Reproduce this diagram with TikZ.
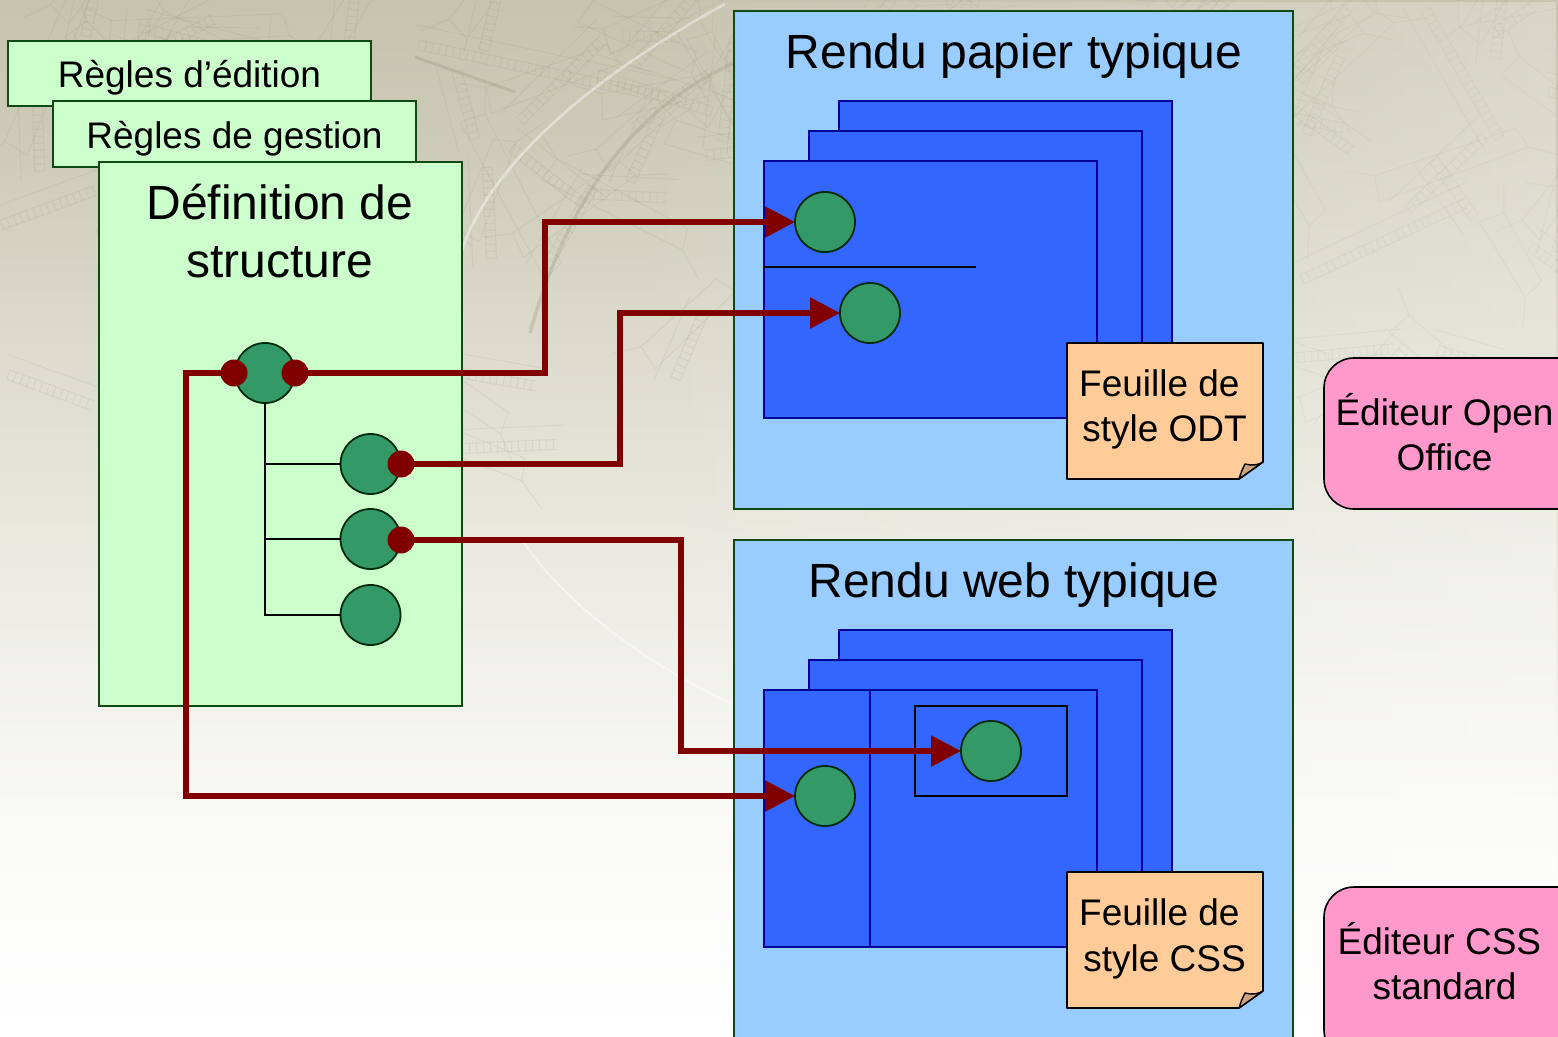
\documentclass[tikz,border=0pt]{standalone}
\usepackage{fontspec}
\setmainfont{Liberation Sans}
\usetikzlibrary{arrows.meta,calc,fadings}
\definecolor{bgc}{HTML}{C6C4AE}
% TikZ maps the picture onto 25bp..75bp of the shading
\pgfdeclareverticalshading{bgshade}{100bp}{
  color(0bp)=(white);
  color(25bp)=(white);
  color(33bp)=(bgc!6!white);
  color(40bp)=(bgc!19!white);
  color(49bp)=(bgc!38!white);
  color(60bp)=(bgc!66!white);
  color(68bp)=(bgc!88!white);
  color(75bp)=(bgc);
  color(100bp)=(bgc)}
\definecolor{mapline}{HTML}{8F8C74}
\definecolor{greenfill}{HTML}{CCFFCC}
\definecolor{greenedge}{HTML}{0F4A12}
\definecolor{bluefill}{HTML}{99CCFF}
\definecolor{pagefill}{HTML}{3366FF}
\definecolor{pageedge}{HTML}{000099}
\definecolor{notefill}{HTML}{FFCC99}
\definecolor{foldfill}{HTML}{CCA37A}
\definecolor{pinkfill}{HTML}{FF99CC}
\definecolor{dotgreen}{HTML}{339966}
\definecolor{balledge}{HTML}{002B0A}
\definecolor{linkred}{HTML}{800000}
\tikzset{
  greenbox/.style={draw=greenedge,fill=greenfill,line width=1.6pt},
  panelbox/.style={draw=greenedge,fill=bluefill,line width=1.6pt},
  pagebox/.style={draw=pageedge,fill=pagefill,line width=1.6pt},
  pinkbox/.style={draw=black,fill=pinkfill,line width=1.6pt,rounded corners=30pt},
  notebox/.style={draw=black,fill=notefill,line width=1.6pt,line join=round},
  foldbox/.style={draw=black,fill=foldfill,line width=1.4pt,line join=round},
  ball/.style={circle,draw=balledge,fill=dotgreen,line width=1.8pt,minimum size=60pt,inner sep=0pt,outer sep=0pt},
  reddot/.style={circle,fill=linkred,minimum size=27pt,inner sep=0pt,outer sep=0pt},
  treeline/.style={draw=black,line width=1.6pt},
  rule/.style={draw=black,line width=1.6pt},
  pagerule/.style={draw=pageedge,line width=1.6pt},
  link/.style={draw=linkred,line width=5.5pt},
  linkarrow/.style={link,-{Triangle[length=30pt,width=30pt]}},
  bigtext/.style={font=\fontsize{48}{58}\selectfont,align=center,inner sep=0pt},
  midtext/.style={font=\fontsize{37}{45.5}\selectfont,align=center,inner sep=0pt},
  maplight/.style={draw=mapline,line width=1pt,opacity=.13},
}
% a map-like street: two long lines with short rungs
\newcommand\mapstreet[4]{%
  \begin{scope}[shift={(#1,#2)},rotate=#3]
    \draw[maplight] (0,0) -- (#4,0) (0,10) -- (#4,10) (-8,-14) -- (#4+10,-14);
    \foreach \s in {0,7,...,#4}{\draw[maplight] (\s,0) -- (\s,10);}
  \end{scope}}
\newcommand\mapblock[5]{%
  \begin{scope}[shift={(#1,#2)},rotate=#3]
    \draw[maplight] (0,0) -- (#4,0) -- (#4+6,#5) -- (-4,#5+4) -- cycle;
    \draw[maplight] (#4+6,#5) -- (#4+34,#5+18) (0,0) -- (-26,-14);
  \end{scope}}
\begin{document}
\begin{tikzpicture}[x=1pt,y=-1pt]
\useasboundingbox (0,0) rectangle (1558,1036);
\clip (0,0) rectangle (1558,1036);
% background
\path[shading=bgshade] (0,0) rectangle (1558,1036);
\pgfmathsetseed{4711}
\foreach \i in {1,...,70}{
  \pgfmathsetmacro{\xa}{rnd*1558}
  \pgfmathsetmacro{\ya}{rnd*rnd*480}
  \pgfmathsetmacro{\wa}{60+rnd*120}
  \pgfmathsetmacro{\ha}{-70+rnd*140}
  \pgfmathtruncatemacro{\la}{50+rnd*70}
  \mapblock{\xa}{\ya}{\ha}{\wa}{22}
  \mapstreet{\xa+30}{\ya+30}{\ha+25}{\la}
}
\mapstreet{1345}{0}{97}{260}
\mapstreet{1390}{0}{100}{120}
\mapstreet{1495}{140}{120}{150}
\mapstreet{1470}{220}{125}{70}
\mapstreet{1300}{275}{25}{180}
\mapstreet{150}{25}{-15}{140}
\mapstreet{420}{40}{-12}{250}
\mapstreet{600}{70}{-18}{120}
\mapstreet{470}{140}{105}{70}
\mapstreet{0}{220}{20}{100}
\mapstreet{10}{370}{-20}{90}
\draw[mapline,opacity=.28,line width=3pt] (415,57) -- (515,92);
\draw[white,opacity=.42,line width=2.6pt] (725,4) .. controls (590,78) and (490,165) .. (462,250);
\draw[mapline,opacity=.26,line width=3.5pt] (734,63) .. controls (640,105) and (570,190) .. (530,333);
\draw[white,opacity=.45,line width=2pt] (522,540) .. controls (570,610) and (650,665) .. (734,705);
% lighter right side
\fill[white,opacity=.3,path fading=west] (600,0) rectangle (1558,1036);
% left stack
\path[greenbox] (8,41) rectangle (371,106);
\node[midtext] (r1) at (189.5,78) {Règles d’édition};
\path[greenbox] (53,101) rectangle (416,167);
\node[midtext] (r2) at (234.5,139) {Règles de gestion};
\path[greenbox] (99,162) rectangle (462,706);
\node[bigtext] (def) at (280,231) {Définition de\\structure};
% top panel
\path[panelbox] (734,11) rectangle (1293,509);
\node[bigtext] (t1) at (1014,56) {Rendu papier typique};
\path[pagebox] (839,101) rectangle (1172,360);
\path[pagebox] (809,131) rectangle (1142,390);
\path[pagebox] (764,161) rectangle (1097,418);
\path[rule] (764,267) -- (976,267);
\path[notebox] (1067,343) -- (1263,343) -- (1263,462) -- (1239,479) -- (1067,479) -- cycle;
\path[foldbox] (1239,479) .. controls (1241,472) and (1243,468) .. (1245,464) .. controls (1252,466) and (1258,465) .. (1263,462) -- cycle;
\node[midtext] (n1) at (1164.5,409.5) {Feuille de\hspace*{.278em}\\style ODT};
% bottom panel
\path[panelbox] (734,540) rectangle (1293,1060);
\node[bigtext] (t2) at (1014,585) {Rendu web typique};
\path[pagebox] (839,630) rectangle (1172,889);
\path[pagebox] (809,660) rectangle (1142,919);
\path[pagebox] (764,690) rectangle (1097,947);
\path[pagerule] (870,690) -- (870,947);
\path[rule] (915,706) rectangle (1067,796);
\path[notebox] (1067,872) -- (1263,872) -- (1263,991) -- (1239,1008) -- (1067,1008) -- cycle;
\path[foldbox] (1239,1008) .. controls (1241,1001) and (1243,997) .. (1245,993) .. controls (1252,995) and (1258,994) .. (1263,991) -- cycle;
\node[midtext] (n2) at (1164.5,939) {Feuille de\hspace*{.278em}\\style CSS};
% pink
\path[pinkbox] (1324,358) rectangle (1590,509);
\node[midtext] (e1) at (1444.5,432) {Éditeur Open\\Office};
\path[pinkbox] (1324,887) rectangle (1590,1060);
\node[midtext] (e2) at (1444.5,961) {Éditeur CSS\hspace*{.278em}\\standard};
% balls
\node[ball] (a0) at (265,373) {};
\node[ball] (a1) at (370.5,464) {};
\node[ball] (a2) at (370.5,539) {};
\node[ball] (a3) at (370.5,615) {};
\path[treeline] (a0.south) -- (a3.west -| a0.south) -- (a3.west);
\path[treeline] (a1.west -| a0.south) -- (a1.west);
\path[treeline] (a2.west -| a0.south) -- (a2.west);
\node[ball] (b1) at (825,222) {};
\node[ball] (b2) at (870,313) {};
\node[ball] (b3) at (991,751) {};
\node[ball] (b4) at (825,796) {};
% source dots
\node[reddot] (dl) at (234,373) {};
\node[reddot] (dr) at (295,373) {};
\node[reddot] (d1) at (401,464) {};
\node[reddot] (d2) at (401,540) {};
% links
\coordinate (k1) at (545,373);
\coordinate (k2) at (620,464);
\coordinate (k3) at (681,540);
\coordinate (k4) at (186,373);
\draw[linkarrow] (dr.center) -- (k1) -- (k1 |- b1.west) -- (b1.west);
\draw[linkarrow] (d1.center) -- (k2) -- (k2 |- b2.west) -- (b2.west);
\draw[linkarrow] (d2.center) -- (k3) -- (k3 |- b3.west) -- (b3.west);
\draw[linkarrow] (dl.center) -- (k4) -- (k4 |- b4.west) -- (b4.west);
\end{tikzpicture}
\end{document}
